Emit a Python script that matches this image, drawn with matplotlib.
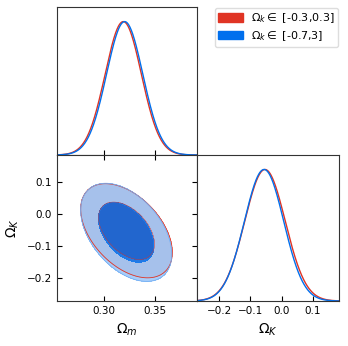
import numpy as np
import matplotlib
matplotlib.use("Agg")
import matplotlib.pyplot as plt
from matplotlib.patches import Patch
from matplotlib.colors import to_rgb

# posterior summaries
labels = [r"$\Omega_k\in$ [-0.3,0.3]", r"$\Omega_k\in$ [-0.7,3]"]
colors = ["#E03424", "#006FED"]
# 1D marginals
mean_om = [0.3186, 0.3200]
sig_om = [0.0178, 0.0178]
mean_ok = [-0.053, -0.056]
sig_ok = [0.065, 0.063]
# 2D contours
mean_om_2d = [0.3218, 0.3215]
mean_ok_2d = [-0.052, -0.057]
sig_om_2d = [0.0181, 0.0180]
sig_ok_2d = [0.059, 0.0615]
rho = [-0.46, -0.45]

om_ticks = [0.30, 0.35]
ok_ticks = [-0.2, -0.1, 0.0, 0.1]
om_lim = (0.2536, 0.391)
ok_lim = (-0.271, 0.184)


def lighter(c, f=0.4):
    r = np.array(to_rgb(c))
    return tuple(f * r + (1 - f))


plt.rcParams["font.size"] = 7.5
fig = plt.figure(figsize=(3.48, 3.46), dpi=100)
ax_m = fig.add_axes([0.164, 0.552, 0.402, 0.428])
ax_2d = fig.add_axes([0.164, 0.130, 0.402, 0.422])
ax_k = fig.add_axes([0.566, 0.130, 0.408, 0.422])

xm = np.linspace(om_lim[0], om_lim[1], 400)
xk = np.linspace(ok_lim[0], ok_lim[1], 400)
X, Y = np.meshgrid(xm, xk)

for i in range(2):
    alpha = 1.0 if i == 0 else 0.85
    pm = np.exp(-0.5 * ((xm - mean_om[i]) / sig_om[i]) ** 2)
    pk = np.exp(-0.5 * ((xk - mean_ok[i]) / sig_ok[i]) ** 2)
    ax_m.plot(xm, pm, color=colors[i], lw=1)
    ax_k.plot(xk, pk, color=colors[i], lw=1)

    u = (X - mean_om_2d[i]) / sig_om_2d[i]
    v = (Y - mean_ok_2d[i]) / sig_ok_2d[i]
    chi2 = (u**2 - 2 * rho[i] * u * v + v**2) / (1 - rho[i] ** 2)
    dens = np.exp(-0.5 * chi2)
    levels = [np.exp(-0.5 * 6.18), np.exp(-0.5 * 2.30), 1.01]
    ax_2d.contourf(X, Y, dens, levels=levels,
                   colors=[lighter(colors[i]), colors[i]], alpha=alpha)
    if i == 0:
        ax_2d.contour(X, Y, dens, levels=levels[:2], colors=[colors[i]],
                      linewidths=[0.6, 0.3])
    else:
        ax_2d.contour(X, Y, dens, levels=levels[:1],
                      colors=[lighter(colors[i], 0.55)], linewidths=0.6)

for ax in (ax_m, ax_k):
    ax.set_ylim(0, 1.11)
    ax.set_yticks([])
ax_m.set_xlim(*om_lim)
ax_m.set_xticks(om_ticks)
ax_m.set_xticklabels([])
ax_k.set_xlim(*ok_lim)
ax_k.set_xticks(ok_ticks)

ax_2d.set_xlim(*om_lim)
ax_2d.set_ylim(*ok_lim)
ax_2d.set_xticks(om_ticks)
ax_2d.set_yticks(ok_ticks)
ax_2d.set_xlabel(r"$\Omega_m$", fontsize=10)
ax_2d.set_ylabel(r"$\Omega_K$", fontsize=10)
ax_k.set_xlabel(r"$\Omega_K$", fontsize=10)

for ax in (ax_m, ax_2d, ax_k):
    ax.tick_params(direction="in", length=3.5, width=0.8, labelsize=7.5)
    for s in ax.spines.values():
        s.set_linewidth(0.8)
        s.set_color("#333333")
ax_2d.tick_params(top=True, right=True)

handles = [Patch(color=c, label=l) for c, l in zip(colors, labels)]
fig.legend(handles=handles, loc="upper right", bbox_to_anchor=(0.972, 0.978),
           fontsize=8, handlelength=2.2, handleheight=0.8, labelspacing=0.35,
           handletextpad=0.7, borderpad=0.35, borderaxespad=0.0,
           framealpha=1, edgecolor="#dddddd")

fig.savefig("out.png", dpi=100)
